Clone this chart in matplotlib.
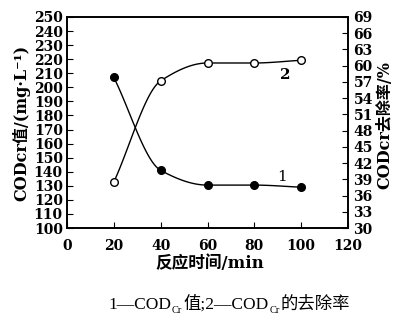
import numpy as np
import matplotlib
matplotlib.use("Agg")
import matplotlib.pyplot as plt

time_min = [20, 40, 60, 80, 100]
cod_value = [207, 141, 130.5, 130.5, 129]
cod_removal = [38.5, 57.2, 60.5, 60.5, 61.0]

left_ticks = list(range(100, 251, 10))
right_ticks = list(range(30, 70, 3))
x_ticks = list(range(0, 121, 20))

SERIF = ['DejaVu Serif', 'Noto Sans CJK SC', 'DejaVu Sans']
CAP = ['Liberation Serif', 'Noto Sans CJK SC', 'DejaVu Sans']
plt.rcParams['font.family'] = SERIF

W, H = 393, 321


def pchip(x, y, n=30):
    x = np.asarray(x, float); y = np.asarray(y, float)
    h = np.diff(x); d = np.diff(y) / h
    m = np.zeros_like(y)
    for k in range(1, len(x) - 1):
        if d[k - 1] * d[k] > 0:
            w1 = 2 * h[k] + h[k - 1]; w2 = h[k] + 2 * h[k - 1]
            m[k] = (w1 + w2) / (w1 / d[k - 1] + w2 / d[k])
    m[0] = d[0]; m[-1] = d[-1]
    xs, ys = [], []
    for k in range(len(x) - 1):
        t = np.linspace(0, 1, n)
        h00 = 2*t**3 - 3*t**2 + 1; h10 = t**3 - 2*t**2 + t
        h01 = -2*t**3 + 3*t**2; h11 = t**3 - t**2
        xs.append(x[k] + t * h[k])
        ys.append(h00*y[k] + h10*h[k]*m[k] + h01*y[k+1] + h11*h[k]*m[k+1])
    return np.concatenate(xs), np.concatenate(ys)


fig = plt.figure(figsize=(W / 100, H / 100), dpi=100)
ax = fig.add_axes([67/W, 1 - 228/H, 281/W, 211/H])
ax2 = ax.twinx()

xs, ys = pchip(time_min, cod_value)
ax.plot(xs, ys, color='black', lw=1.0)
ax.plot(time_min, cod_value, 'o', color='black', ms=5.5, mfc='black')
xs2, ys2 = pchip(time_min, cod_removal)
ax2.plot(xs2, ys2, color='black', lw=1.0)
ax2.plot(time_min, cod_removal, 'o', color='black', ms=5.5, mfc='white', mew=1.0)

ax.set_xlim(0, 120); ax.set_ylim(100, 250)
ax2.set_ylim(30, 69)
ax.set_xticks(x_ticks); ax.set_yticks(left_ticks)
ax2.set_yticks(right_ticks)

fs = 10
for a in (ax, ax2):
    for lab in a.get_xticklabels() + a.get_yticklabels():
        lab.set_fontweight('bold'); lab.set_fontsize(fs)
ax.tick_params(axis='y', direction='in', length=4, width=0.8, pad=3)
ax.tick_params(axis='x', direction='in', length=4, width=0.8, pad=8)
ax2.tick_params(axis='y', direction='in', length=4, width=0.8, pad=4)
for a in (ax, ax2):
    for s in a.spines.values():
        s.set_linewidth(1.2)

fig.text(210/W, 1 - 263/H, '反应时间/min', fontsize=12, fontweight='bold',
         ha='center', va='center')
fig.text(21/W, 1 - 123/H, 'CODcr值/(mg·L⁻¹)', fontsize=11.5, fontweight='bold',
         rotation=90, ha='center', va='center')
fig.text(385/W, 1 - 125/H, 'CODcr去除率/%', fontsize=11.5, fontweight='bold',
         rotation=90, ha='center', va='center')

ax.text(92, 131.5, '1', fontsize=11, ha='center', va='bottom')
ax2.text(93, 59.5, '2', fontsize=11, fontweight='bold', ha='center', va='top')

# caption with subscripts, built piece by piece
fig.canvas.draw()
renderer = fig.canvas.get_renderer()
pieces = [('1—COD', 12.5, 0), ('Cr', 7.5, -4), ('值;2—COD', 12.5, 0), ('Cr', 7.5, -4), ('的去除率', 12.5, 0)]
x0 = 108
base = H - 309
for txt, size, dy in pieces:
    t = fig.text(x0 / W, (base + dy) / H, txt, fontsize=size, family=CAP,
                 ha='left', va='baseline')
    bb = t.get_window_extent(renderer)
    x0 += bb.width + 1

fig.savefig('out.png', dpi=100)
